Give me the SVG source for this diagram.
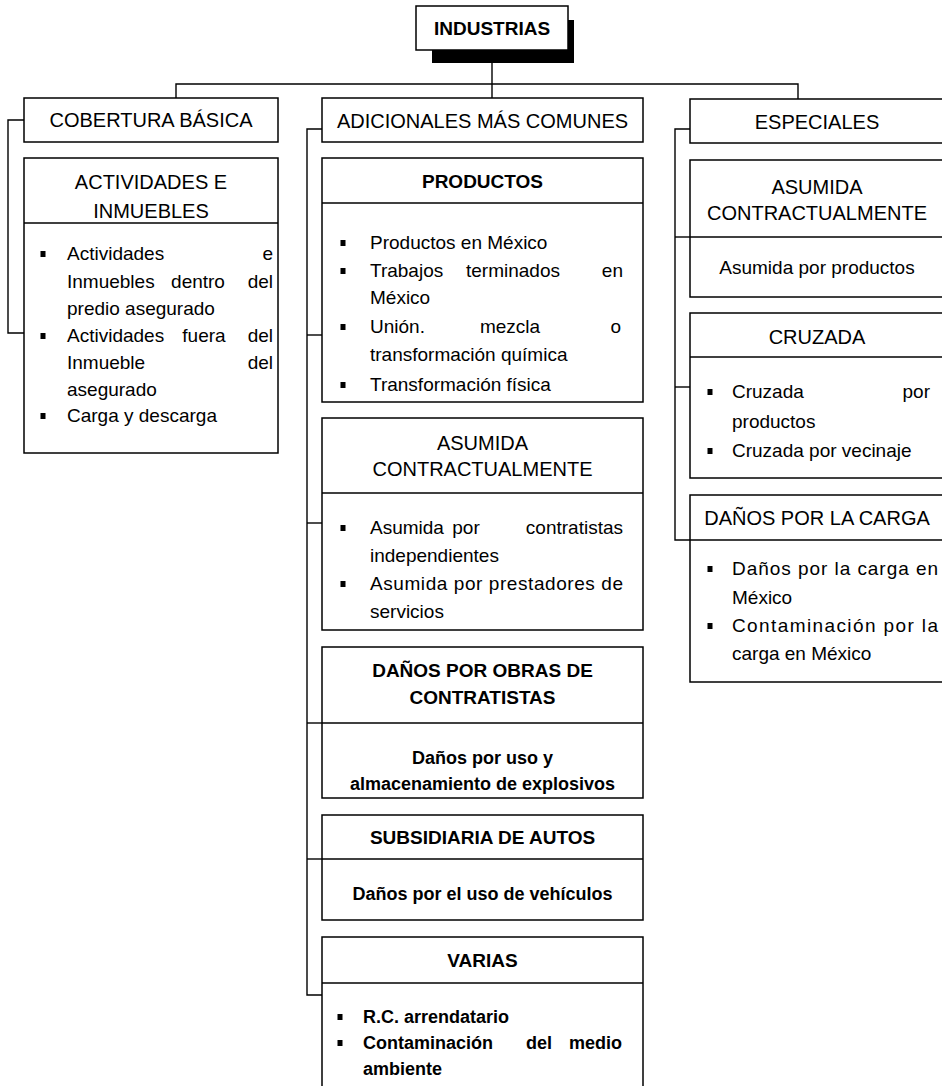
<svg xmlns="http://www.w3.org/2000/svg" width="942" height="1086" viewBox="0 0 942 1086">
<style>
.box{fill:#fff;stroke:#000;stroke-width:1.5}
.div{stroke:#000;stroke-width:1.5}
.con{fill:none;stroke:#000;stroke-width:1.4}
text{font-family:"Liberation Sans",Arial,sans-serif;fill:#000}
.h{font-size:20px;text-anchor:middle}
.hb{font-size:19px;text-anchor:middle;font-weight:bold}
.t{font-size:19px}
.tb{font-size:18px;font-weight:bold}
.e{text-anchor:end}
.m{text-anchor:middle}
.c{text-anchor:middle}
</style>
<defs>
<rect id="bul" x="-2.5" y="-3" width="5" height="6" fill="#000"/>
</defs>
<rect width="942" height="1086" fill="#fff"/>

<g id="connectors" class="con">
<line x1="492" y1="58" x2="492" y2="98"/>
<polyline points="176,98 176,84 798,84 798,99"/>
<polyline points="24,120 8,120 8,333 24,333"/>
<polyline points="322,129 307,129 307,995 322,995"/>
<line x1="307" y1="335" x2="322" y2="335"/>
<line x1="307" y1="523" x2="322" y2="523"/>
<line x1="307" y1="723" x2="322" y2="723"/>
<line x1="307" y1="859" x2="322" y2="859"/>
<polyline points="690,129 675,129 675,540 690,540"/>
<line x1="675" y1="237" x2="690" y2="237"/>
<line x1="675" y1="387" x2="690" y2="387"/>
</g>

<g id="industrias">
<rect x="432" y="20" width="142" height="43" fill="#000"/>
<rect class="box" x="416" y="6" width="152" height="44"/>
<text class="hb" x="492" y="35">INDUSTRIAS</text>
</g>

<g id="cobertura">
<rect class="box" x="24" y="98" width="254" height="44"/>
<text class="h" x="151" y="127">COBERTURA BÁSICA</text>
</g>

<g id="actividades">
<rect class="box" x="24" y="158" width="254" height="295"/>
<line class="div" x1="24" y1="223" x2="278" y2="223"/>
<text class="h" x="151" y="189">ACTIVIDADES E</text>
<text class="h" x="151" y="218">INMUEBLES</text>
<use href="#bul" x="43" y="254"/>
<text class="t" x="67" y="260">Actividades</text><text class="t e" x="273" y="260">e</text>
<text class="t" x="67" y="288">Inmuebles</text><text class="t m" x="198" y="288">dentro</text><text class="t e" x="273" y="288">del</text>
<text class="t" x="67" y="315">predio asegurado</text>
<use href="#bul" x="43" y="336"/>
<text class="t" x="67" y="342">Actividades</text><text class="t m" x="204" y="342">fuera</text><text class="t e" x="273" y="342">del</text>
<text class="t" x="67" y="369">Inmueble</text><text class="t e" x="273" y="369">del</text>
<text class="t" x="67" y="396">asegurado</text>
<use href="#bul" x="43" y="416"/>
<text class="t" x="67" y="422">Carga y descarga</text>
</g>

<g id="adicionales">
<rect class="box" x="322" y="98" width="321" height="44"/>
<text class="h" x="482.5" y="128">ADICIONALES MÁS COMUNES</text>
</g>

<g id="productos">
<rect class="box" x="322" y="158" width="321" height="244"/>
<line class="div" x1="322" y1="203" x2="643" y2="203"/>
<text class="hb" x="482.5" y="188">PRODUCTOS</text>
<use href="#bul" x="343" y="243"/>
<text class="t" x="370" y="249">Productos en México</text>
<use href="#bul" x="343" y="271"/>
<text class="t" x="370" y="277">Trabajos</text><text class="t m" x="513" y="277">terminados</text><text class="t e" x="623" y="277">en</text>
<text class="t" x="370" y="304">México</text>
<use href="#bul" x="343" y="327"/>
<text class="t" x="370" y="333">Unión.</text><text class="t m" x="510" y="333">mezcla</text><text class="t e" x="621" y="333">o</text>
<text class="t" x="370" y="361">transformación química</text>
<use href="#bul" x="343" y="385"/>
<text class="t" x="370" y="391">Transformación física</text>
</g>

<g id="asumida-adicionales">
<rect class="box" x="322" y="418" width="321" height="212"/>
<line class="div" x1="322" y1="493" x2="643" y2="493"/>
<text class="h" x="482.5" y="450">ASUMIDA</text>
<text class="h" x="482.5" y="476">CONTRACTUALMENTE</text>
<use href="#bul" x="343" y="528"/>
<text class="t" x="370" y="534">Asumida</text><text class="t m" x="466" y="534">por</text><text class="t e" x="623" y="534">contratistas</text>
<text class="t" x="370" y="562">independientes</text>
<use href="#bul" x="343" y="584"/>
<text class="t" x="370" y="590" textLength="253" lengthAdjust="spacing">Asumida por prestadores de</text>
<text class="t" x="370" y="618">servicios</text>
</g>

<g id="danos-obras">
<rect class="box" x="322" y="647" width="321" height="151"/>
<line class="div" x1="322" y1="723" x2="643" y2="723"/>
<text class="hb" x="482.5" y="677">DAÑOS POR OBRAS DE</text>
<text class="hb" x="482.5" y="704">CONTRATISTAS</text>
<text class="tb c" x="482.5" y="764">Daños por uso y</text>
<text class="tb c" x="482.5" y="790">almacenamiento de explosivos</text>
</g>

<g id="subsidiaria">
<rect class="box" x="322" y="815" width="321" height="105"/>
<line class="div" x1="322" y1="859" x2="643" y2="859"/>
<text class="hb" x="482.5" y="844">SUBSIDIARIA DE AUTOS</text>
<text class="tb c" x="482.5" y="900">Daños por el uso de vehículos</text>
</g>

<g id="varias">
<rect class="box" x="322" y="937" width="321" height="170"/>
<line class="div" x1="322" y1="983" x2="643" y2="983"/>
<text class="hb" x="482.5" y="967">VARIAS</text>
<use href="#bul" x="340" y="1017"/>
<text class="tb" x="363" y="1023">R.C. arrendatario</text>
<use href="#bul" x="340" y="1043"/>
<text class="tb" x="363" y="1049">Contaminación</text><text class="tb m" x="539" y="1049">del</text><text class="tb e" x="622" y="1049">medio</text>
<text class="tb" x="363" y="1075">ambiente</text>
</g>

<g id="especiales">
<rect class="box" x="690" y="99" width="260" height="44"/>
<text class="h" x="817" y="129">ESPECIALES</text>
</g>

<g id="asumida-especiales">
<rect class="box" x="690" y="160" width="260" height="137"/>
<line class="div" x1="690" y1="237" x2="950" y2="237"/>
<text class="h" x="817" y="194">ASUMIDA</text>
<text class="h" x="817" y="220">CONTRACTUALMENTE</text>
<text class="t c" x="817" y="274">Asumida por productos</text>
</g>

<g id="cruzada">
<rect class="box" x="690" y="313" width="260" height="165"/>
<line class="div" x1="690" y1="357" x2="950" y2="357"/>
<text class="h" x="817" y="344">CRUZADA</text>
<use href="#bul" x="710" y="392"/>
<text class="t" x="732" y="398">Cruzada</text><text class="t e" x="930" y="398">por</text>
<text class="t" x="732" y="428">productos</text>
<use href="#bul" x="710" y="451"/>
<text class="t" x="732" y="457">Cruzada por vecinaje</text>
</g>

<g id="danos-carga">
<rect class="box" x="690" y="495" width="260" height="187"/>
<line class="div" x1="690" y1="540" x2="950" y2="540"/>
<text class="h" x="817" y="525">DAÑOS POR LA CARGA</text>
<use href="#bul" x="710" y="569"/>
<text class="t" x="732" y="575" textLength="206" lengthAdjust="spacing">Daños por la carga en</text>
<text class="t" x="732" y="604">México</text>
<use href="#bul" x="710" y="626"/>
<text class="t" x="732" y="632" textLength="206" lengthAdjust="spacing">Contaminación por la</text>
<text class="t" x="732" y="660">carga en México</text>
</g>
</svg>
